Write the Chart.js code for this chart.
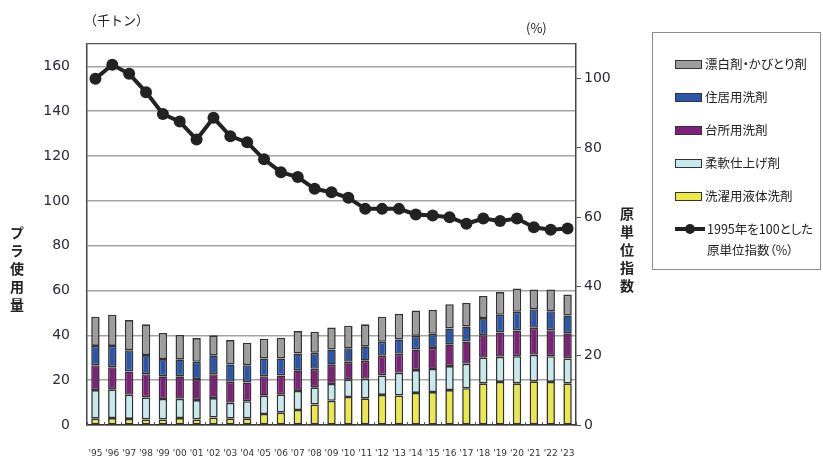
<!DOCTYPE html>
<html>
<head>
<meta charset="utf-8">
<script src="https://cdn.jsdelivr.net/npm/chart.js@4/dist/chart.umd.min.js"></script>
<style>
  html, body { margin: 0; padding: 0; background: #fff; }
  #wrap { position: relative; width: 823px; height: 456px; overflow: hidden;
          font-family: "Noto Sans CJK JP", "Noto Sans", sans-serif; color: #222; }
  #chart { position: absolute; left: 0; top: 0; }
  .unit { position: absolute; font-size: 13px; white-space: nowrap; line-height: 1; }
  .vtitle { position: absolute; writing-mode: vertical-rl; font-weight: bold;
            font-size: 14px; letter-spacing: 4px; line-height: 1; }
  #legend { position: absolute; left: 652px; top: 32px; width: 169px; height: 238px;
            border: 1px solid #8c8c8c; box-sizing: border-box; }
  .item { position: absolute; left: 22px; font-size: 12.5px; line-height: 1;
          white-space: nowrap; display: flex; align-items: center;
          font-feature-settings: "palt"; }
  .sw { width: 25px; height: 7px; border: 1.5px solid #333; margin-right: 3px; box-sizing: content-box; }
  .lsw { position: relative; width: 30px; height: 10px; margin-right: 2px; }
  .lsw::before { content: ""; position: absolute; left: 0; right: 0; top: 3px; height: 4px; background: #222; }
  .lsw::after { content: ""; position: absolute; left: 10px; top: 0; width: 10px; height: 10px; border-radius: 50%; background: #222; }
</style>
</head>
<body>
<div id="wrap">
  <canvas id="chart" width="823" height="456"></canvas>
  <div class="unit" style="left:84px;top:13px;">（千トン）</div>
  <div class="unit" style="left:526px;top:21px;">(%)</div>
  <div class="vtitle" style="left:10px;top:226px;">プラ使用量</div>
  <div class="vtitle" style="left:620px;top:207px;">原単位指数</div>
  <div id="legend"></div>
</div>
<script>
// Fiscal years (category labels)
const years = ["'95","'96","'97","'98","'99","'00","'01","'02","'03","'04","'05","'06","'07","'08","'09",
               "'10","'11","'12","'13","'14","'15","'16","'17","'18","'19","'20","'21","'22","'23"];

// Plastic use by product type (thousand tonnes)
const liquidLaundry = [2.8,3.1,2.7,2.5,2.5,3.1,2.5,3.3,2.8,3.0,4.9,5.5,6.7,9.2,10.8,
                       12.5,11.9,13.4,13.2,14.3,14.7,15.6,16.4,18.6,19.2,18.6,19.5,19.2,18.6];
const softener      = [12.8,12.8,10.8,9.8,9.1,8.6,8.6,8.7,7.1,7.6,8.2,8.2,8.5,7.6,7.5,
                       7.9,8.7,8.7,10.1,10.2,10.3,10.7,10.9,11.4,11.2,12.1,11.8,11.5,11.1];
const kitchen       = [11.1,9.9,10.4,10.4,10.1,10.0,9.4,10.7,9.4,8.4,8.7,8.4,9.2,8.3,8.6,
                       7.8,8.1,8.8,8.5,9.2,9.4,9.7,10.0,10.1,10.9,11.5,12.1,11.6,11.2];
const household     = [8.6,9.5,9.5,8.5,7.7,7.6,7.7,8.4,7.7,7.7,7.9,7.6,7.5,7.1,6.8,
                       6.1,6.4,6.2,6.4,6.1,6.3,7.1,6.7,7.6,7.9,8.3,8.3,8.5,8.0];
const bleach        = [13.0,13.9,13.4,13.7,11.7,10.9,10.6,8.9,10.9,10.0,8.8,9.2,10.0,9.4,9.8,
                       10.0,9.8,11.2,11.4,11.3,10.7,10.8,10.5,9.9,10.1,10.4,8.8,9.7,9.3];

// Unit-consumption index, 1995 = 100 (%)
const unitIndex     = [100,104.0,101.4,96.1,89.8,87.6,82.4,88.7,83.4,81.6,76.7,73.0,71.6,68.2,67.2,
                       65.6,62.4,62.4,62.4,60.8,60.5,60.0,58.1,59.6,58.9,59.6,57.1,56.4,56.7];

// Axis ticks
const leftTicks  = [0,20,40,60,80,100,120,140,160];
const rightTicks = [0,20,40,60,80,100];
const leftMax = 170, rightMax = 110;

const tickFont = { family: "'DejaVu Sans', Verdana, sans-serif", size: 14 };

// Small inward tick marks between categories on the bottom axis
const catTicks = {
  id: 'catTicks',
  afterDatasetsDraw(chart) {
    const x = chart.scales.x, y = chart.scales.y;
    const ctx = chart.ctx;
    ctx.save();
    ctx.strokeStyle = '#555';
    ctx.lineWidth = 1;
    for (let i = 0; i <= years.length; i++) {
      const px = Math.round(x.getPixelForValue(i - 0.5)) + 0.5;
      ctx.beginPath();
      ctx.moveTo(px, y.bottom);
      ctx.lineTo(px, y.bottom - 3);
      ctx.stroke();
    }
    ctx.restore();
  }
};

const barBase = { type: 'bar', borderColor: '#333', borderWidth: 1.6, borderSkipped: false,
                  barPercentage: 0.5, categoryPercentage: 1, yAxisID: 'y', order: 1 };

const datasets = [
  { ...barBase, label: '洗濯用液体洗剤', data: liquidLaundry, backgroundColor: '#ece845' },
  { ...barBase, label: '柔軟仕上げ剤', data: softener, backgroundColor: '#c6e9ee' },
  { ...barBase, label: '台所用洗剤', data: kitchen, backgroundColor: '#80207c' },
  { ...barBase, label: '住居用洗剤', data: household, backgroundColor: '#2a56ad' },
  { ...barBase, label: '漂白剤・かびとり剤', data: bleach, backgroundColor: '#9d9d9d' },
  { type: 'line', label: '1995年を100とした\n原単位指数（%）', data: unitIndex, yAxisID: 'y2', order: 0,
    borderColor: '#222', backgroundColor: '#222', borderWidth: 4, pointRadius: 6,
    pointBorderWidth: 0, pointBackgroundColor: '#222', tension: 0, stack: 'idx' }
];

const chart = new Chart(document.getElementById('chart'), {
  data: { labels: years, datasets },
  options: {
    responsive: false,
    animation: false,
    layout: { padding: { left: 0, right: 187, top: 44, bottom: 0 } },
    plugins: { legend: { display: false }, tooltip: { enabled: false } },
    scales: {
      x: {
        stacked: true,
        offset: true,
        grid: { display: false },
        border: { display: true, color: '#333', width: 1.5 },
        ticks: { color: '#333', font: { family: "'DejaVu Sans', Verdana, sans-serif", size: 9 },
                 padding: 15, maxRotation: 0, autoSkip: false },
        afterFit(s) { s.height = 31; }
      },
      y: {
        stacked: true,
        position: 'left',
        min: 0, max: leftMax,
        afterBuildTicks(s) { s.ticks = leftTicks.concat([leftMax]).map(v => ({ value: v })); },
        grid: { drawTicks: false,
                color: c => (c.tick && c.tick.value === leftMax) ? '#555' : '#a3a3a3',
                lineWidth: c => (c.tick && c.tick.value === leftMax) ? 1.2 : 1.5 },
        border: { display: true, color: '#444', width: 1.5 },
        ticks: { color: '#2a2a3a', font: tickFont, padding: 17,
                 callback: v => (v === leftMax ? '' : v) },
        afterFit(s) { s.width = 87; }
      },
      y2: {
        stacked: false,
        position: 'right',
        min: 0, max: rightMax,
        afterBuildTicks(s) { s.ticks = rightTicks.map(v => ({ value: v })); },
        grid: { drawOnChartArea: false, drawTicks: true, tickLength: 5, color: '#555', lineWidth: 1 },
        border: { display: true, color: '#444', width: 1.5 },
        ticks: { color: '#2a2a3a', font: tickFont, padding: 3 },
        afterFit(s) { s.width = 60; }
      }
    }
  },
  plugins: [catTicks]
});

// Legend: bar series top-down as stacked, then the index line
const legend = document.getElementById('legend');
const order = [4, 3, 2, 1, 0, 5];
const rowTops = [25, 58, 91, 124, 157, 190];
order.forEach((di, k) => {
  const ds = chart.data.datasets[di];
  const row = document.createElement('div');
  row.className = 'item';
  row.style.top = rowTops[k] + 'px';
  if (ds.type === 'bar') {
    const sw = document.createElement('span');
    sw.className = 'sw';
    sw.style.background = ds.backgroundColor;
    row.appendChild(sw);
    const t = document.createElement('span');
    t.textContent = ds.label;
    row.appendChild(t);
  } else {
    row.style.alignItems = 'flex-start';
    const sw = document.createElement('span');
    sw.className = 'lsw';
    sw.style.marginTop = '1px';
    row.appendChild(sw);
    const t = document.createElement('span');
    t.style.lineHeight = '21px';
    t.style.marginTop = '-5px';
    t.innerHTML = ds.label.split('\n').map(s => s.replace(/&/g, '&amp;').replace(/</g, '&lt;')).join('<br>');
    row.appendChild(t);
  }
  legend.appendChild(row);
});
</script>
</body>
</html>
